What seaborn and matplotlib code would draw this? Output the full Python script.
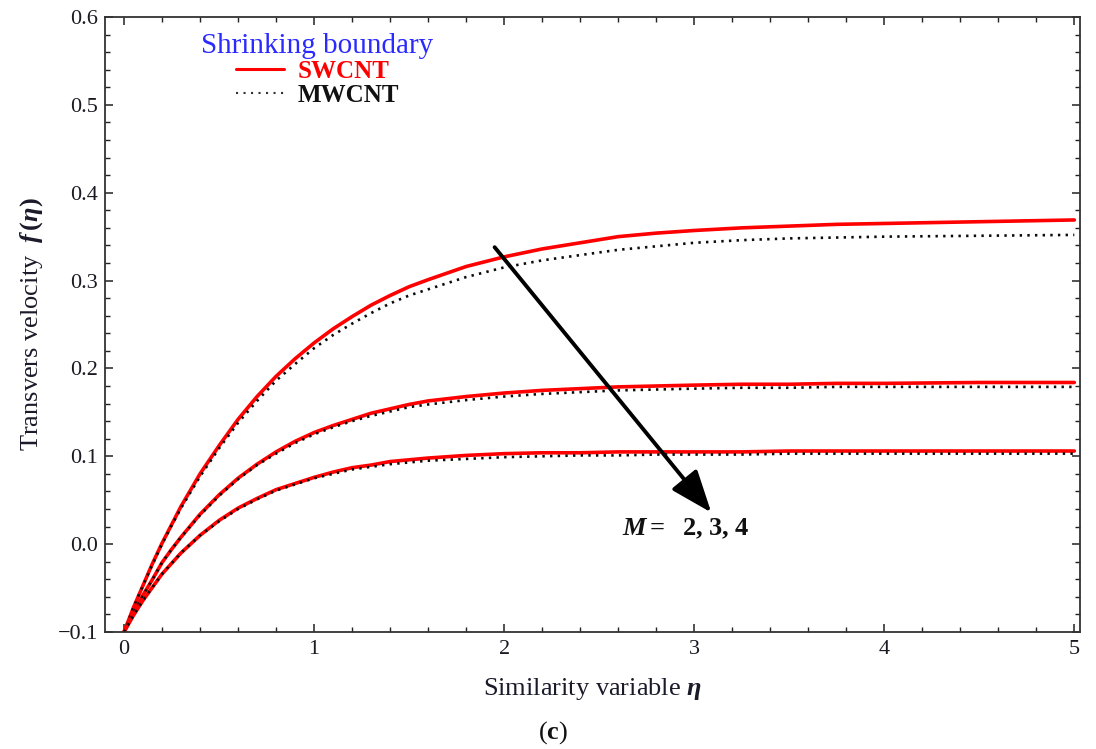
import matplotlib
matplotlib.use("Agg")
import matplotlib.pyplot as plt
from matplotlib.lines import Line2D
from matplotlib.ticker import MultipleLocator, FuncFormatter
import pandas as pd
import seaborn as sns

# similarity variable
eta = [0, 0.05, 0.1, 0.15, 0.2, 0.25, 0.3, 0.4, 0.5, 0.6, 0.7, 0.8, 0.9, 1.0,
       1.1, 1.2, 1.3, 1.4, 1.5, 1.6, 1.8, 2.0, 2.2, 2.4, 2.6, 2.8, 3.0,
       3.25, 3.5, 3.75, 4.0, 4.5, 5.0]

# transverse velocity f(eta), M = 2, 3, 4
swcnt_m2 = [-0.100, -0.072, -0.047, -0.022, 0.001, 0.022, 0.043, 0.080, 0.112, 0.142,
            0.168, 0.191, 0.211, 0.229, 0.245, 0.259, 0.272, 0.283, 0.293, 0.301,
            0.316, 0.327, 0.336, 0.343, 0.350, 0.354, 0.357, 0.360, 0.362, 0.364,
            0.365, 0.367, 0.369]
mwcnt_m2 = [-0.100, -0.072, -0.047, -0.023, 0.000, 0.021, 0.041, 0.077, 0.109, 0.138,
            0.163, 0.186, 0.205, 0.223, 0.238, 0.251, 0.263, 0.274, 0.283, 0.290,
            0.304, 0.315, 0.323, 0.329, 0.335, 0.339, 0.343, 0.346, 0.348, 0.349,
            0.350, 0.351, 0.352]
swcnt_m3 = [-0.100, -0.078, -0.058, -0.040, -0.021, -0.006, 0.008, 0.034, 0.056, 0.075,
            0.091, 0.105, 0.117, 0.127, 0.135, 0.142, 0.149, 0.154, 0.159, 0.163,
            0.168, 0.172, 0.175, 0.177, 0.179, 0.180, 0.181, 0.182, 0.182, 0.183,
            0.183, 0.184, 0.184]
mwcnt_m3 = [-0.100, -0.078, -0.058, -0.040, -0.021, -0.006, 0.008, 0.033, 0.055, 0.074,
            0.090, 0.103, 0.115, 0.125, 0.133, 0.140, 0.146, 0.151, 0.156, 0.159,
            0.164, 0.168, 0.171, 0.173, 0.175, 0.176, 0.177, 0.178, 0.178, 0.179,
            0.179, 0.179, 0.179]
swcnt_m4 = [-0.100, -0.081, -0.064, -0.049, -0.034, -0.022, -0.010, 0.010, 0.027, 0.041,
            0.052, 0.062, 0.069, 0.076, 0.082, 0.087, 0.090, 0.094, 0.096, 0.098,
            0.101, 0.103, 0.104, 0.104, 0.105, 0.105, 0.105, 0.105, 0.106, 0.106,
            0.106, 0.106, 0.106]
mwcnt_m4 = [-0.100, -0.081, -0.064, -0.049, -0.034, -0.022, -0.010, 0.010, 0.026, 0.040,
            0.051, 0.061, 0.068, 0.075, 0.080, 0.085, 0.088, 0.091, 0.093, 0.095,
            0.097, 0.099, 0.100, 0.101, 0.101, 0.102, 0.102, 0.102, 0.103, 0.103,
            0.103, 0.103, 0.103]

sns.set_theme(style="ticks")
plt.rcParams["font.family"] = ["Liberation Serif", "DejaVu Serif"]
plt.rcParams["mathtext.fontset"] = "custom"
plt.rcParams["mathtext.rm"] = "Liberation Serif:bold"
plt.rcParams["mathtext.it"] = "Liberation Serif:italic:bold"
plt.rcParams["mathtext.bf"] = "Liberation Serif:bold"

fig = plt.figure(figsize=(10.96, 7.49), dpi=100)
ax = fig.add_axes([0.0958, 0.1562, 0.8896, 0.8211])

# red solid = SWCNT, black dotted = MWCNT
for sw, mw in [(swcnt_m2, mwcnt_m2), (swcnt_m3, mwcnt_m3), (swcnt_m4, mwcnt_m4)]:
    df = pd.DataFrame({"eta": eta, "SWCNT": sw, "MWCNT": mw})
    sns.lineplot(data=df, x="eta", y="SWCNT", ax=ax, color="#ff0000", lw=2.6,
                 estimator=None, sort=False)
    sns.lineplot(data=df, x="eta", y="MWCNT", ax=ax, color="#0a0a0a", lw=1.9,
                 estimator=None, sort=False, linestyle=(0, (0.9, 2.0)))

ax.set_xlim(-0.1, 5.03)
ax.set_ylim(-0.1, 0.6)

ax.xaxis.set_major_locator(MultipleLocator(1))
ax.xaxis.set_minor_locator(MultipleLocator(0.2))
ax.yaxis.set_major_locator(MultipleLocator(0.1))
ax.yaxis.set_minor_locator(MultipleLocator(0.02))
ax.yaxis.set_major_formatter(FuncFormatter(lambda v, p: f"{v:.1f}".replace("-", "\u2212")))

ax.tick_params(which="both", direction="in", top=True, right=True,
               color="#222222", labelsize=16, labelcolor="#1a1a22")
ax.tick_params(which="major", length=6, width=1.1)
ax.tick_params(which="minor", length=3.6, width=1.0)
ax.tick_params(axis="x", pad=6)
ax.tick_params(axis="y", pad=5)
for sp in ax.spines.values():
    sp.set_color("#333333")
    sp.set_linewidth(1.3)

ax.set_xlabel(r"Similarity variable $\eta$", fontsize=19, color="#1a1a2a", labelpad=12)
ax.set_ylabel(r"Transvers velocity  $f\,(\eta)$", fontsize=19, color="#1a1a2a", labelpad=9)

# arrow and M label
ax.annotate("", xy=(3.09, 0.036), xytext=(1.95, 0.338),
            arrowprops=dict(arrowstyle="-|>,head_length=1.3,head_width=0.5",
                            color="black", lw=2.8, mutation_scale=20,
                            shrinkA=0, shrinkB=0))
ax.text(2.62, 0.017, r"$M =$  2, 3, 4", fontsize=19, fontweight="bold",
        ha="left", va="center", color="#111111")

handles = [Line2D([], [], color="#ff0000", lw=2.2),
           Line2D([], [], color="#333333", lw=1.5, linestyle=(0, (1.0, 2.6)))]
leg = ax.legend(handles, ["SWCNT", "MWCNT"], title="Shrinking boundary",
                loc="upper left", bbox_to_anchor=(0.086, 0.995), frameon=False,
                borderpad=0, handlelength=1.9, handletextpad=0.55,
                labelspacing=0.05,
                prop={"family": "Liberation Serif", "weight": "bold", "size": 18},
                title_fontproperties={"family": "Liberation Serif", "size": 21})
leg.get_title().set_color("#2a2aff")
leg.get_texts()[0].set_color("#ff0000")
leg.get_texts()[1].set_color("#111111")

fig.text(0.505, 1 - 733 / 749, r"($\mathbf{c}$)", fontsize=19,
         ha="center", va="center", color="#111111")

fig.savefig("out.png", dpi=100)
